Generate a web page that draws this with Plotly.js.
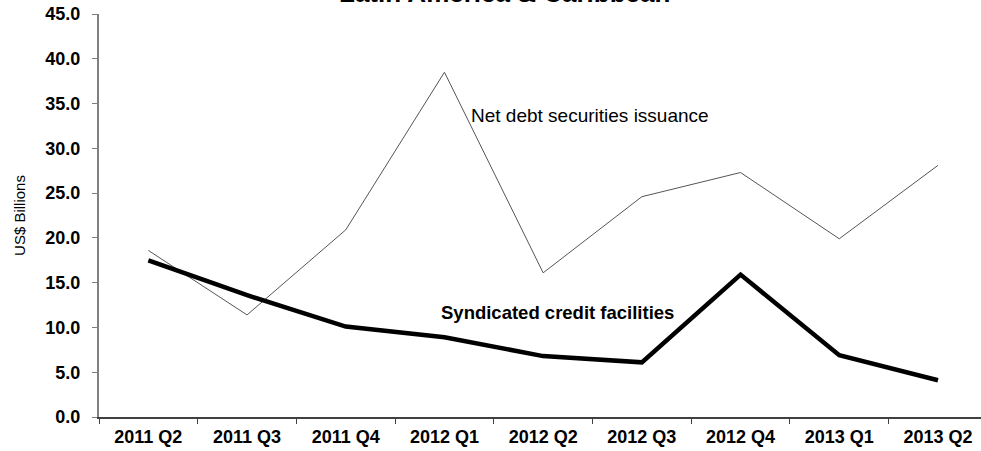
<!DOCTYPE html>
<html>
<head>
<meta charset="utf-8">
<script src="https://cdn.plot.ly/plotly-3.0.1.min.js"></script>
<style>html,body{margin:0;padding:0;background:#fff;}#chart{width:981px;height:451px;}</style>
</head>
<body>
<div id="chart"></div>
<script>
const categories = ["2011 Q2","2011 Q3","2011 Q4","2012 Q1","2012 Q2","2012 Q3","2012 Q4","2013 Q1","2013 Q2"];
const netDebt = [18.6, 11.4, 20.9, 38.5, 16.1, 24.6, 27.3, 19.9, 28.1];
const syndicated = [17.5, 13.6, 10.1, 8.9, 6.8, 6.1, 15.9, 6.9, 4.1];
const yTicks = [0, 5, 10, 15, 20, 25, 30, 35, 40, 45];

const FONT = "Liberation Sans, Arial, sans-serif";

const traces = [
  {x: categories, y: netDebt, type: "scatter", mode: "lines", name: "Net debt securities issuance",
   line: {color: "#555555", width: 1}},
  {x: categories, y: syndicated, type: "scatter", mode: "lines", name: "Syndicated credit facilities",
   line: {color: "#000000", width: 4.5}}
];

const layout = {
  width: 981, height: 451,
  margin: {l: 99, r: 0, t: 14, b: 34, pad: 0},
  paper_bgcolor: "#ffffff", plot_bgcolor: "#ffffff",
  showlegend: false,
  font: {family: FONT, color: "#000"},
  xaxis: {
    type: "category", range: [-0.5, 8.436], fixedrange: true,
    showgrid: false, zeroline: false, showline: true, linecolor: "#404040", linewidth: 1.5,
    ticks: "outside", ticklen: 5, tickcolor: "#404040", tickwidth: 1, tickson: "boundaries",
    ticklabelstandoff: 3,
    tickfont: {family: FONT, size: 18, color: "#000", weight: "bold"}
  },
  yaxis: {
    range: [0, 45], tickvals: yTicks, tickformat: ".1f",
    showgrid: false, zeroline: false, showline: true, linecolor: "#808080", linewidth: 2,
    ticks: "outside", ticklen: 5, tickcolor: "#808080", tickwidth: 1, ticklabelstandoff: 8,
    tickfont: {family: FONT, size: 18, color: "#000", weight: "bold"},
    title: {text: "US$ Billions", font: {family: FONT, size: 15, color: "#000"}, standoff: 16}
  },
  annotations: [
    {text: "<b>Latin America & Caribbean</b>", xref: "paper", yref: "paper", x: (504-99)/882, y: 1.052,
     xanchor: "center", yanchor: "middle", showarrow: false, font: {family: FONT, size: 26, color: "#000"}},
    {text: "Net debt securities issuance", xref: "paper", yref: "paper", x: (469-99)/882, y: (417-115)/403,
     xanchor: "left", yanchor: "middle", showarrow: false, font: {family: FONT, size: 19, color: "#000"}},
    {text: "<b>Syndicated credit facilities</b>", xref: "paper", yref: "paper", x: (439-99)/882, y: (417-312)/403,
     xanchor: "left", yanchor: "middle", showarrow: false, font: {family: FONT, size: 18.5, color: "#000"}}
  ]
};

Plotly.newPlot("chart", traces, layout, {displayModeBar: false, staticPlot: true});
</script>
</body>
</html>
